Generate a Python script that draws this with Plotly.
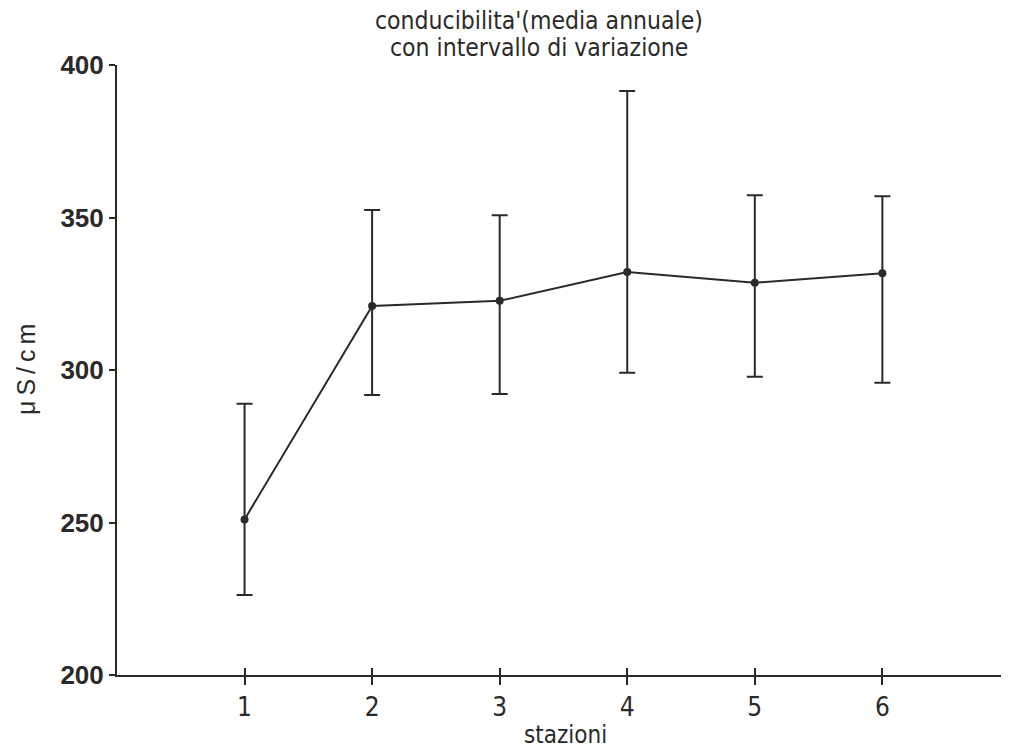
import plotly.graph_objects as go

stations = [1, 2, 3, 4, 5, 6]
mean_vals = [251.0, 321.0, 322.7, 332.1, 328.6, 331.7]
upper_vals = [288.9, 352.5, 350.7, 391.5, 357.3, 357.0]
lower_vals = [226.2, 291.8, 292.1, 299.1, 297.8, 295.8]
y_ticks = [200, 250, 300, 350, 400]
title_lines = ["conducibilita'(media annuale)", "con intervallo di variazione"]
x_title = "stazioni"
y_title = "μ\u2009S\u2009/\u2009c\u2009m"

err_plus = [u - m for u, m in zip(upper_vals, mean_vals)]
err_minus = [m - l for m, l in zip(mean_vals, lower_vals)]

INK = "#2a2a2a"
NARROW = "Liberation Sans Narrow, DejaVu Sans Condensed, Arial Narrow, sans-serif"
SANS = "Liberation Sans, Arial, sans-serif"

W, H = 1009, 751
L, R, T, B = 117, 8, 65, 76
PW, PH = W - L - R, H - T - B


def px_to_paper(px, py):
    return (px - L) / PW, (H - B - py) / PH


fig = go.Figure()
fig.add_trace(go.Scatter(
    x=stations, y=mean_vals, mode="lines+markers",
    line=dict(color=INK, width=2),
    marker=dict(color=INK, size=8),
    error_y=dict(type="data", symmetric=False, array=err_plus, arrayminus=err_minus,
                 color=INK, thickness=2, width=8),
    showlegend=False,
))

# invisible trace on overlay axis to carry the upward half of the x ticks
fig.add_trace(go.Scatter(x=stations, y=mean_vals, xaxis="x2", mode="none",
                         showlegend=False, hoverinfo="skip"))

annotations = []
for text, py in zip(title_lines, [20, 48]):
    ax_, ay_ = px_to_paper(539, py)
    annotations.append(dict(text=text, x=ax_, y=ay_, xref="paper", yref="paper",
                            xanchor="center", yanchor="middle", showarrow=False,
                            font=dict(family=NARROW, size=24.5, color=INK)))
ax_, ay_ = px_to_paper(565, 735)
annotations.append(dict(text=x_title, x=ax_, y=ay_, xref="paper", yref="paper",
                        xanchor="center", yanchor="middle", showarrow=False,
                        font=dict(family=NARROW, size=24, color=INK)))
ax_, ay_ = px_to_paper(26, 370)
annotations.append(dict(text=y_title, x=ax_, y=ay_, xref="paper", yref="paper",
                        xanchor="center", yanchor="middle", showarrow=False, textangle=-90,
                        font=dict(family=SANS, size=25, color=INK)))

fig.update_layout(
    width=W, height=H,
    margin=dict(l=L, r=R, t=T, b=B, autoexpand=False),
    paper_bgcolor="white", plot_bgcolor="white",
    annotations=annotations,
    xaxis=dict(range=[0, 6.93], tickvals=stations, ticktext=[str(s) for s in stations],
               showgrid=False, zeroline=False, showline=True, linecolor=INK, linewidth=2,
               ticks="outside", ticklen=8, tickwidth=2, tickcolor=INK, automargin=False,
               tickfont=dict(family=NARROW, size=26, color=INK)),
    xaxis2=dict(range=[0, 6.93], overlaying="x", tickvals=stations, showticklabels=False,
                showgrid=False, zeroline=False, showline=False, automargin=False,
                ticks="inside", ticklen=7, tickwidth=2, tickcolor=INK),
    yaxis=dict(range=[200, 400], tickvals=y_ticks, showgrid=False, zeroline=False,
               showline=True, linecolor=INK, linewidth=2, automargin=False,
               ticks="outside", ticklen=6, tickwidth=2, tickcolor=INK,
               tickfont=dict(family=SANS, size=26, color=INK, weight=600)),
)

fig.write_html("out.html", config={"displayModeBar": False},
               post_script="document.body.style.margin='0';document.body.style.overflow='hidden';")
